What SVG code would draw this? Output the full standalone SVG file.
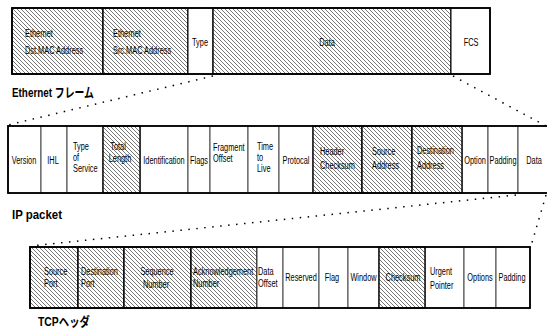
<svg xmlns="http://www.w3.org/2000/svg" width="547" height="336" viewBox="0 0 547 336">
<style>
.t{font-family:"Liberation Sans",Arial,sans-serif;font-size:11px;fill:#000}
.m{text-anchor:middle}
.lbl{font-family:"Liberation Sans","Noto Sans CJK JP",Arial,sans-serif;font-size:13px;font-weight:bold;fill:#000}
.h{fill:url(#hatch);stroke:#000;stroke-width:1.4}
.p{fill:#fff;stroke:#444;stroke-width:1}
.row{fill:none;stroke:#000;stroke-width:1.8}
.dot{fill:none;stroke:#000;stroke-width:1.5;stroke-dasharray:1.5 6.5}
</style>
<defs>
<pattern id="hatch" width="4" height="4" patternUnits="userSpaceOnUse">
<rect width="4" height="4" fill="#fff"/>
<path d="M-1,-1 L5,5 M-1,3 L1,5 M3,-1 L5,1" stroke="#555" stroke-width="0.8"/>
</pattern>
</defs>
<rect width="547" height="336" fill="#fff"/>

<g id="ethernet-frame">
<g id="eth-dst"><rect class="h" x="12" y="8" width="91" height="66"/>
<text class="t" transform="translate(25,37) scale(0.67,1)">Ethernet</text>
<text class="t" transform="translate(25,54) scale(0.67,1)">Dst.MAC Address</text></g>
<g id="eth-src"><rect class="h" x="103" y="8" width="85" height="66"/>
<text class="t" transform="translate(113,37) scale(0.67,1)">Ethernet</text>
<text class="t" transform="translate(113,54) scale(0.67,1)">Src.MAC Address</text></g>
<g id="eth-type"><rect class="p" x="188" y="8" width="25" height="66" style="stroke:#000"/>
<text class="t m" transform="translate(200,46) scale(0.67,1)">Type</text></g>
<g id="eth-data"><rect class="h" x="213" y="8" width="238" height="66"/>
<text class="t m" transform="translate(327,46) scale(0.67,1)">Data</text></g>
<g id="eth-fcs"><rect class="p" x="451" y="8" width="39" height="66" style="stroke:#000"/>
<text class="t m" transform="translate(471,46) scale(0.67,1)">FCS</text></g>
<rect class="row" x="12" y="8" width="478" height="66"/>
</g>
<g id="label-ethernet"><text class="lbl" transform="translate(12,97) scale(0.76,1)">Ethernet フレーム</text></g>

<g id="ip-packet">
<g id="ip-version"><rect class="p" x="8" y="126" width="33" height="67"/>
<text class="t m" transform="translate(24,164) scale(0.67,1)">Version</text></g>
<g id="ip-ihl"><rect class="p" x="41" y="126" width="26" height="67"/>
<text class="t m" transform="translate(53,164) scale(0.67,1)">IHL</text></g>
<g id="ip-tos"><rect class="p" x="67" y="126" width="36" height="67"/>
<text class="t" transform="translate(73,150) scale(0.67,1)">Type</text>
<text class="t" transform="translate(73,161) scale(0.67,1)">of</text>
<text class="t" transform="translate(73,172) scale(0.67,1)">Service</text></g>
<g id="ip-ident"><rect class="p" x="140" y="126" width="48" height="67"/>
<text class="t m" transform="translate(164,164) scale(0.67,1)">Identification</text></g>
<g id="ip-flags"><rect class="p" x="188" y="126" width="22" height="67"/>
<text class="t m" transform="translate(199,164) scale(0.67,1)">Flags</text></g>
<g id="ip-frag"><rect class="p" x="210" y="126" width="38" height="67"/>
<text class="t" transform="translate(213,151) scale(0.67,1)">Fragment</text>
<text class="t" transform="translate(213,162) scale(0.67,1)">Offset</text></g>
<g id="ip-ttl"><rect class="p" x="248" y="126" width="31" height="67"/>
<text class="t" transform="translate(257,150) scale(0.67,1)">Time</text>
<text class="t" transform="translate(257,161) scale(0.67,1)">to</text>
<text class="t" transform="translate(257,172) scale(0.67,1)">Live</text></g>
<g id="ip-proto"><rect class="p" x="279" y="126" width="34" height="67"/>
<text class="t m" transform="translate(296,164) scale(0.67,1)">Protocal</text></g>
<g id="ip-option"><rect class="p" x="462" y="126" width="26" height="67"/>
<text class="t m" transform="translate(475,164) scale(0.67,1)">Option</text></g>
<g id="ip-padding"><rect class="p" x="488" y="126" width="30" height="67"/>
<text class="t m" transform="translate(503,164) scale(0.67,1)">Padding</text></g>
<g id="ip-data"><rect class="p" x="518" y="126" width="32" height="67"/>
<text class="t m" transform="translate(534,164) scale(0.67,1)">Data</text></g>
<g id="ip-total"><rect class="h" x="103" y="126" width="37" height="67"/>
<text class="t m" transform="translate(118,150) scale(0.67,1)">Total</text>
<text class="t m" transform="translate(120,162) scale(0.67,1)">Length</text></g>
<g id="ip-hcs"><rect class="h" x="313" y="126" width="49" height="67"/>
<text class="t" transform="translate(320,155) scale(0.67,1)">Header</text>
<text class="t" transform="translate(320,169) scale(0.67,1)">Checksum</text></g>
<g id="ip-src"><rect class="h" x="362" y="126" width="50" height="67"/>
<text class="t" transform="translate(372,155) scale(0.67,1)">Source</text>
<text class="t" transform="translate(372,169) scale(0.67,1)">Address</text></g>
<g id="ip-dst"><rect class="h" x="412" y="126" width="50" height="67"/>
<text class="t" transform="translate(417,154) scale(0.67,1)">Destination</text>
<text class="t" transform="translate(417,169) scale(0.67,1)">Address</text></g>
<rect class="row" x="8" y="126" width="545" height="67"/>
</g>
<g id="label-ip"><text class="lbl" transform="translate(12,219) scale(0.88,1)">IP packet</text></g>

<g id="tcp-header">
<g id="tcp-srcport"><rect class="h" x="30" y="247" width="48" height="61"/>
<text class="t" transform="translate(44,275) scale(0.67,1)">Source</text>
<text class="t" transform="translate(44,287) scale(0.67,1)">Port</text></g>
<g id="tcp-dstport"><rect class="h" x="78" y="247" width="46" height="61"/>
<text class="t" transform="translate(81,275) scale(0.67,1)">Destination</text>
<text class="t" transform="translate(81,287) scale(0.67,1)">Port</text></g>
<g id="tcp-seq"><rect class="h" x="124" y="247" width="67" height="61"/>
<text class="t m" transform="translate(157,275) scale(0.67,1)">Sequence</text>
<text class="t m" transform="translate(156,288) scale(0.67,1)">Number</text></g>
<g id="tcp-ack"><rect class="h" x="191" y="247" width="66" height="61"/>
<text class="t" transform="translate(193,275) scale(0.67,1)">Acknowledgement</text>
<text class="t" transform="translate(193,287) scale(0.67,1)">Number</text></g>
<g id="tcp-offset"><rect class="p" x="257" y="247" width="26" height="61"/>
<text class="t" transform="translate(258,275) scale(0.67,1)">Data</text>
<text class="t" transform="translate(258,287) scale(0.67,1)">Offset</text></g>
<g id="tcp-reserved"><rect class="p" x="283" y="247" width="36" height="61"/>
<text class="t m" transform="translate(301,281) scale(0.67,1)">Reserved</text></g>
<g id="tcp-flag"><rect class="p" x="319" y="247" width="29" height="61"/>
<text class="t m" transform="translate(332,281) scale(0.67,1)">Flag</text></g>
<g id="tcp-window"><rect class="p" x="348" y="247" width="31" height="61"/>
<text class="t m" transform="translate(363.5,281) scale(0.67,1)">Window</text></g>
<g id="tcp-urgent"><rect class="p" x="425" y="247" width="39" height="61"/>
<text class="t" transform="translate(430,275) scale(0.67,1)">Urgent</text>
<text class="t" transform="translate(430,289) scale(0.67,1)">Pointer</text></g>
<g id="tcp-options"><rect class="p" x="464" y="247" width="32" height="61"/>
<text class="t m" transform="translate(480,281) scale(0.67,1)">Options</text></g>
<g id="tcp-padding"><rect class="p" x="496" y="247" width="34" height="61"/>
<text class="t m" transform="translate(512,281) scale(0.67,1)">Padding</text></g>
<g id="tcp-checksum"><rect class="h" x="379" y="247" width="46" height="61"/>
<text class="t m" transform="translate(403,281) scale(0.67,1)">Checksum</text></g>
<rect class="row" x="30" y="247" width="500" height="61"/>
</g>
<g id="label-tcp"><text class="lbl" transform="translate(38,326) scale(0.8,1)">TCPヘッダ</text></g>

<g id="connectors">
<line class="dot" x1="213" y1="76" x2="8" y2="125"/>
<line class="dot" x1="453" y1="76" x2="546" y2="126"/>
<line class="dot" x1="516" y1="195" x2="31" y2="246"/>
<line class="dot" x1="546" y1="195" x2="531" y2="246"/>
</g>
</svg>
